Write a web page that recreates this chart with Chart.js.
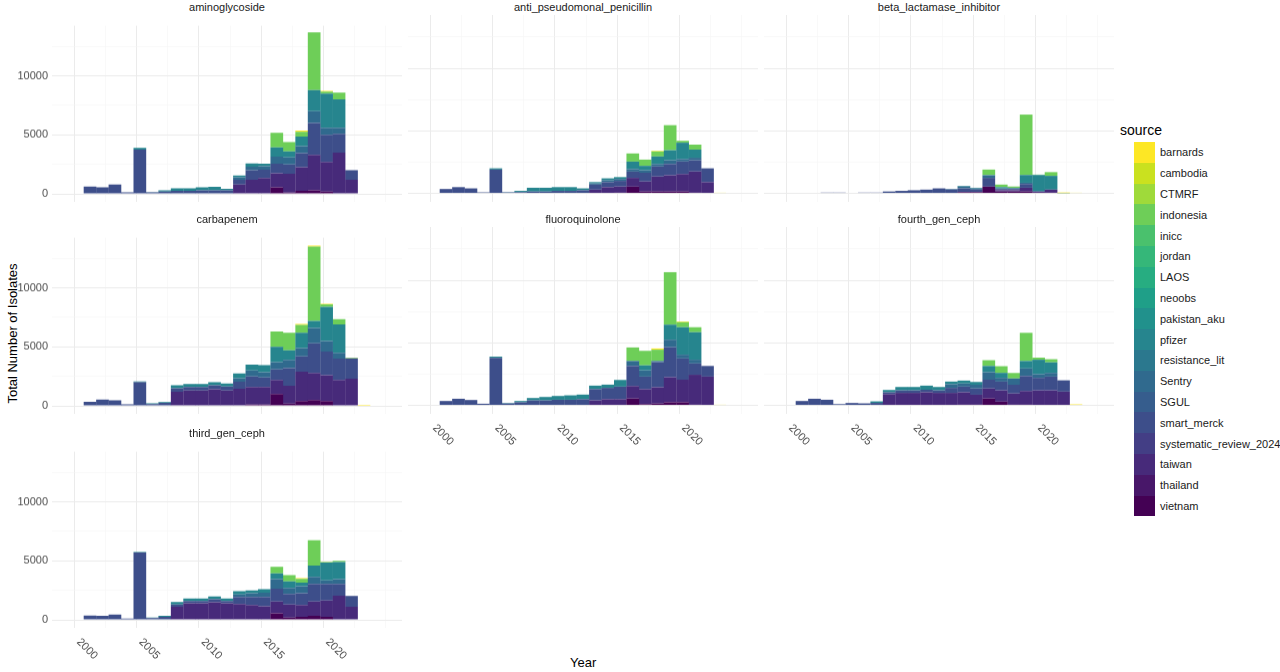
<!DOCTYPE html>
<html>
<head>
<meta charset="utf-8">
<script src="https://cdn.jsdelivr.net/npm/chart.js@4"></script>
<style>
  body { margin: 0; width: 1280px; height: 672px; background: #fff; font-family: "Liberation Sans", Arial, sans-serif; position: relative; overflow: hidden; }
  canvas { position: absolute; pointer-events: none; }
  .strip { position: absolute; font-size: 11px; color: #1a1a1a; text-align: center; width: 350px; }
  .axis-title { position: absolute; font-size: 13px; color: #000; }
  #legend { position: absolute; left: 1120px; top: 122px; }
  #legend .ttl { font-size: 14px; margin-bottom: 4px; }
  #legend .item { height: 20.8px; display: flex; align-items: center; font-size: 11px; color: #1a1a1a; }
  #legend .key { width: 21px; height: 20.8px; margin-left: 14px; margin-right: 5px; }
</style>
</head>
<body>
<div class="axis-title" style="left:-68px;top:326px;transform:rotate(-90deg);width:160px;text-align:center;">Total Number of Isolates</div>
<div class="axis-title" style="left:570px;top:655px;">Year</div>
<div id="legend"><div class="ttl">source</div></div>

<script>
const years = [2000,2001,2002,2003,2004,2005,2006,2007,2008,2009,2010,2011,2012,2013,2014,2015,2016,2017,2018,2019,2020,2021,2022];

const sources = ["barnards","cambodia","CTMRF","indonesia","inicc","jordan","LAOS","neoobs","pakistan_aku","pfizer","resistance_lit","Sentry","SGUL","smart_merck","systematic_review_2024","taiwan","thailand","vietnam"];
const sourceColors = ["#FDE725","#CAE11F","#9FDA3A","#6ECE58","#4AC16D","#35B779","#27AD81","#1F9F88","#21918C","#26858E","#2B788E","#306A8E","#365D8D","#3D4E8A","#433E85","#472A7A","#481769","#440154"];

// stacked bottom to top: vietnam, taiwan, smart_merck, Sentry, pfizer, indonesia, barnards
const stackOrder = ["vietnam","taiwan","smart_merck","Sentry","pfizer","indonesia","barnards"];

const aminoglycoside = {
  vietnam:     [0,0,0,0,0,0,0,0,0,0,0,0,0,0,50,550,100,250,300,200,0,0,0],
  taiwan:      [0,0,0,0,0,0,0,0,0,0,0,0,800,1200,1300,1200,1600,2000,3000,2500,3500,1200,0],
  smart_merck: [620,560,800,130,3750,130,200,250,250,300,300,300,400,800,700,800,800,1200,2700,2300,1600,800,0],
  Sentry:      [0,0,0,0,0,0,0,0,0,0,0,0,200,300,300,600,600,600,1000,600,500,0,0],
  pfizer:      [0,0,0,0,140,30,100,230,230,250,300,130,150,270,200,800,500,800,1800,2900,2400,10,0],
  indonesia:   [0,0,0,0,0,0,0,0,0,0,0,0,0,0,0,1220,780,420,4900,170,580,0,0],
  barnards:    [0,0,0,0,0,0,0,0,0,0,0,0,0,0,0,0,0,100,0,70,0,0,50]
};
const anti_pseudomonal_penicillin = {
  vietnam:     [0,0,0,0,0,0,0,0,0,0,0,0,0,0,50,540,150,150,150,150,50,0,0],
  taiwan:      [0,0,0,0,0,0,0,0,0,0,0,0,300,500,500,700,800,1200,1300,1400,1700,900,0],
  smart_merck: [350,500,400,80,1900,80,100,150,150,200,200,250,400,400,450,500,700,800,900,1000,900,1100,0],
  Sentry:      [0,0,0,0,0,0,0,0,0,0,0,0,100,150,150,200,200,200,300,200,200,0,0],
  pfizer:      [0,0,0,0,100,20,100,300,300,300,300,150,100,150,150,600,350,600,800,1300,650,0,0],
  indonesia:   [0,0,0,0,0,0,0,0,0,0,0,0,0,0,0,650,500,400,2000,150,400,0,0],
  barnards:    [0,0,0,0,0,0,0,0,0,0,0,0,0,0,0,0,0,50,0,0,0,0,50]
};
const beta_lactamase_inhibitor = {
  vietnam:     [0,0,0,0,0,0,0,0,0,0,0,0,0,100,100,540,150,150,150,50,50,0,0],
  taiwan:      [0,0,0,0,0,0,0,0,0,0,0,0,0,0,0,0,100,100,300,100,250,0,0],
  smart_merck: [0,0,60,60,0,60,60,150,200,250,300,400,300,300,200,700,100,100,300,0,0,0,0],
  Sentry:      [0,0,0,0,0,0,0,0,0,0,0,0,50,150,100,200,50,50,100,0,0,0,0],
  pfizer:      [0,0,0,0,0,0,0,0,0,0,0,0,0,50,50,30,100,50,620,1320,1100,20,0],
  indonesia:   [0,0,0,0,0,0,0,0,0,0,0,0,0,0,0,430,200,100,4830,30,300,0,0],
  barnards:    [0,0,0,0,0,0,0,0,0,0,0,0,0,0,0,0,0,0,0,0,0,50,50]
};
const carbapenem = {
  vietnam:     [0,0,0,0,0,0,0,0,0,0,0,0,50,100,100,1000,200,400,500,400,0,0,0],
  taiwan:      [0,0,0,0,0,0,0,1200,1300,1300,1400,1300,1400,1500,1500,1200,1500,2500,2300,2200,2200,2300,0],
  smart_merck: [350,530,480,130,2000,150,250,300,300,300,350,350,600,900,800,900,1500,1300,2500,2000,1800,1700,0],
  Sentry:      [0,0,0,0,0,0,0,0,0,0,0,0,300,500,450,600,700,700,1300,900,500,0,0],
  pfizer:      [0,0,0,0,60,60,70,240,250,250,250,250,400,500,600,1300,800,1300,600,2900,2400,50,0],
  indonesia:   [0,0,0,0,0,0,0,0,0,0,0,0,0,0,0,1300,1500,650,6300,200,450,0,0],
  barnards:    [0,0,0,0,0,0,0,0,0,0,0,0,0,0,0,0,0,100,80,40,0,40,80]
};
const fluoroquinolone = {
  vietnam:     [0,0,0,0,0,0,0,0,0,0,0,0,0,0,0,550,100,150,250,250,50,0,0],
  taiwan:      [0,0,0,0,0,0,0,0,0,0,0,0,400,500,500,1000,1200,1300,2000,1800,2400,2300,0],
  smart_merck: [350,530,430,130,3800,150,250,400,400,450,450,500,900,900,1000,1600,1000,2000,2400,1700,900,850,0],
  Sentry:      [0,0,0,0,0,0,0,0,0,0,0,0,0,0,0,400,500,100,600,300,300,0,0],
  pfizer:      [0,0,0,0,100,40,100,190,270,300,350,360,280,260,530,0,400,0,1200,2200,2200,0,0],
  indonesia:   [0,0,0,0,0,0,0,0,0,0,0,0,0,0,0,1080,1160,900,4200,400,400,0,0],
  barnards:    [0,0,0,0,0,0,0,0,0,0,0,0,0,0,0,0,0,100,0,60,0,0,50]
};
const fourth_gen_ceph = {
  vietnam:     [0,0,0,0,0,0,0,0,0,0,0,0,0,50,50,550,300,50,50,0,0,0,0],
  taiwan:      [0,0,0,0,0,0,0,900,1000,1000,1050,1000,1000,1000,800,800,900,900,1100,1200,1200,1100,0],
  smart_merck: [350,530,450,100,190,160,200,150,200,200,200,200,400,450,500,700,700,700,1200,1000,1100,900,0],
  Sentry:      [0,0,0,0,0,0,0,0,0,0,0,0,300,250,300,600,300,500,600,300,300,0,0],
  pfizer:      [0,0,0,0,0,0,120,180,270,270,330,270,200,230,220,500,400,0,600,1150,840,0,0],
  indonesia:   [0,0,0,0,0,0,0,0,0,0,0,0,0,0,0,460,530,440,2250,170,250,0,0],
  barnards:    [0,0,0,0,0,0,0,0,0,0,0,0,0,0,0,0,0,0,0,0,0,0,80]
};
const third_gen_ceph = {
  vietnam:     [0,0,0,0,0,0,0,0,0,0,0,0,50,50,50,550,200,250,350,250,50,0,0],
  taiwan:      [0,0,0,0,0,0,0,1100,1400,1400,1500,1400,1300,1200,1100,1000,1100,1000,1200,1400,2000,1100,0],
  smart_merck: [370,350,450,110,5700,150,250,200,200,200,250,200,600,700,800,1100,900,1000,1500,1400,1000,930,0],
  Sentry:      [0,0,0,0,0,0,0,0,0,0,0,0,200,300,350,800,500,600,600,300,400,0,0],
  pfizer:      [0,0,0,0,50,40,100,220,220,220,230,220,280,250,300,500,550,300,950,1500,1450,0,0],
  indonesia:   [0,0,0,0,0,0,0,0,0,0,0,0,0,0,0,540,550,330,2160,40,100,0,0],
  barnards:    [0,0,0,0,0,0,0,0,0,0,0,0,0,0,0,0,0,50,0,30,0,0,50]
};

const panels = [
  { name: "aminoglycoside", data: aminoglycoside, col: 0, row: 0, xLabels: false },
  { name: "anti_pseudomonal_penicillin", data: anti_pseudomonal_penicillin, col: 1, row: 0, xLabels: false },
  { name: "beta_lactamase_inhibitor", data: beta_lactamase_inhibitor, col: 2, row: 0, xLabels: false },
  { name: "carbapenem", data: carbapenem, col: 0, row: 1, xLabels: false },
  { name: "fluoroquinolone", data: fluoroquinolone, col: 1, row: 1, xLabels: true },
  { name: "fourth_gen_ceph", data: fourth_gen_ceph, col: 2, row: 1, xLabels: true },
  { name: "third_gen_ceph", data: third_gen_ceph, col: 0, row: 2, xLabels: true }
];

const colLeft = [52, 408, 764];
const rowTop = [15, 227, 441];
const plotW = 350, plotH = 186.5, yAxisW = 45, xAxisH = 40;
const xMin = 1998.35, xMax = 2023.65, yMin = -679, yMax = 14259;

// legend
const legend = document.getElementById("legend");
sources.forEach((s, i) => {
  const it = document.createElement("div");
  it.className = "item";
  it.innerHTML = '<div class="key" style="background:' + sourceColors[i] + '"></div><span>' + s + '</span>';
  legend.appendChild(it);
});

// rotated year labels, placed with the chart's own x scale
const yearLabels = {
  id: "yearLabels",
  afterDraw(chart, args, opts) {
    if (!opts.show) return;
    const ctx = chart.ctx, xs = chart.scales.x, bottom = chart.chartArea.bottom;
    ctx.save();
    ctx.font = "11px 'Liberation Sans', Arial, sans-serif";
    ctx.fillStyle = "#4D4D4D";
    ctx.textAlign = "center";
    ctx.textBaseline = "middle";
    [2000, 2005, 2010, 2015, 2020].forEach(v => {
      ctx.save();
      ctx.translate(xs.getPixelForValue(v) - 3, bottom + 21);
      ctx.rotate(Math.PI / 4);
      ctx.fillText(String(v), 0, 0);
      ctx.restore();
    });
    ctx.restore();
  }
};

panels.forEach(p => {
  const left = colLeft[p.col], top = rowTop[p.row];
  const strip = document.createElement("div");
  strip.className = "strip";
  strip.style.left = left + "px";
  strip.style.top = (top - 14) + "px";
  strip.textContent = p.name;
  document.body.appendChild(strip);

  const cv = document.createElement("canvas");
  cv.style.left = (left - yAxisW) + "px";
  cv.style.top = top + "px";
  cv.style.width = (plotW + yAxisW) + "px";
  cv.style.height = (plotH + xAxisH) + "px";
  cv.width = plotW + yAxisW;
  cv.height = plotH + xAxisH;
  document.body.appendChild(cv);

  const datasets = stackOrder.map(s => ({
    label: s,
    data: years.map((y, i) => ({ x: y, y: p.data[s][i] })),
    backgroundColor: sourceColors[sources.indexOf(s)],
    borderWidth: 0,
    categoryPercentage: 1,
    barPercentage: 1.02
  }));

  new Chart(cv, {
    type: "bar",
    data: { datasets },
    plugins: [yearLabels],
    options: {
      responsive: false,
      animation: false,
      layout: { padding: 0 },
      plugins: { legend: { display: false }, tooltip: { enabled: false }, yearLabels: { show: p.xLabels } },
      scales: {
        x: {
          type: "linear", stacked: true, min: xMin, max: xMax,
          afterBuildTicks: s => { s.ticks = [2000, 2002.5, 2005, 2007.5, 2010, 2012.5, 2015, 2017.5, 2020, 2022.5].map(v => ({ value: v })); },
          afterFit: s => { s.height = xAxisH; },
          ticks: { display: false },
          border: { display: false },
          grid: { drawTicks: false, color: c => (c.tick && c.tick.value % 5 === 0) ? "#EBEBEB" : "#F5F5F5", lineWidth: c => (c.tick && c.tick.value % 5 === 0) ? 1 : 0.6 }
        },
        y: {
          stacked: true, min: yMin, max: yMax,
          afterBuildTicks: s => { s.ticks = [0, 2500, 5000, 7500, 10000, 12500].map(v => ({ value: v })); },
          afterFit: s => { s.width = yAxisW; },
          ticks: {
            display: p.col === 0,
            color: "#4D4D4D",
            font: { size: 11, family: "'Liberation Sans', Arial, sans-serif" },
            padding: 4,
            callback: v => (v % 5000 === 0 ? String(v) : "")
          },
          border: { display: false },
          grid: { drawTicks: false, color: c => (c.tick && c.tick.value % 5000 === 0) ? "#EBEBEB" : "#F5F5F5", lineWidth: c => (c.tick && c.tick.value % 5000 === 0) ? 1 : 0.6 }
        }
      }
    }
  });
});
</script>
</body>
</html>
